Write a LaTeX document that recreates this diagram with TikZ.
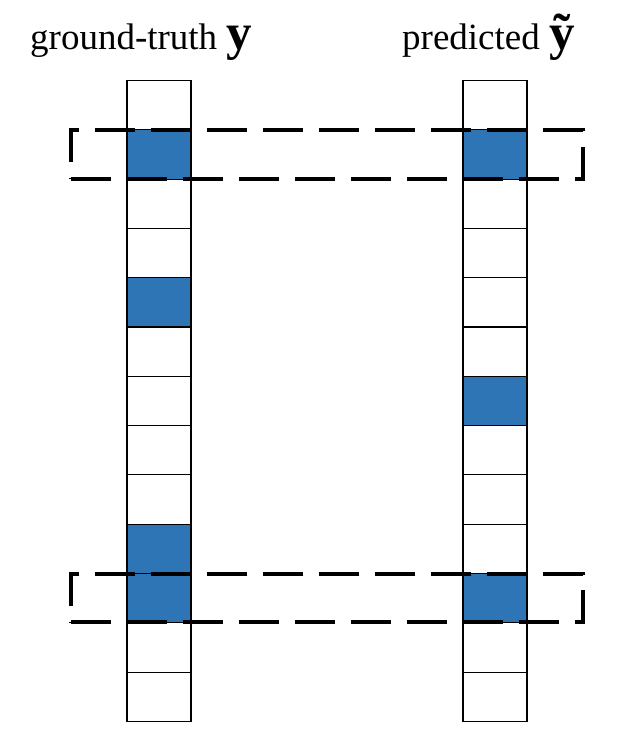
\documentclass[tikz,border=0pt]{standalone}
\usepackage{fontspec}
\setmainfont{Liberation Serif}
\definecolor{CellBlue}{HTML}{2E75B6}
\usetikzlibrary{fit}

\begin{document}
\begin{tikzpicture}[x=1pt,y=-1pt,
    cell/.style={draw, line width=1.1pt, minimum width=64pt, minimum height=49.3pt, inner sep=0pt, outer sep=0pt},
    pairbox/.style={draw, line width=4pt, dash pattern=on 40pt off 16pt, inner xsep=56pt, inner ysep=-0.5pt},
    title/.style={anchor=base west, inner sep=0pt, font=\fontsize{37}{40}\selectfont}]
  \useasboundingbox (0,0) rectangle (619,754);
  % columns of cells, top to bottom
  \foreach \i/\lc/\rc in {1/white/white, 2/CellBlue/CellBlue, 3/white/white, 4/white/white,
      5/CellBlue/white, 6/white/white, 7/white/CellBlue, 8/white/white, 9/white/white,
      10/CellBlue/white, 11/CellBlue/CellBlue, 12/white/white, 13/white/white}{
    \node[cell, fill=\lc] (l\i) at (159, {80.5+(\i-0.5)*49.3}) {};
    \node[cell, fill=\rc] (r\i) at (495, {80.5+(\i-0.5)*49.3}) {};
  }
  % matched rows
  \node[pairbox, fit=(l2)(r2)] (top) {};
  \node[pairbox, fit=(l11)(r11)] (bot) {};
  % headings
  \node[title] (gt) at (30,50) {ground-truth {\bfseries\fontsize{51}{51}\selectfont y}};
  \node[title] (pred) at (402,50) {predicted {\bfseries\fontsize{51}{51}\selectfont\~{y}}};
\end{tikzpicture}
\end{document}
